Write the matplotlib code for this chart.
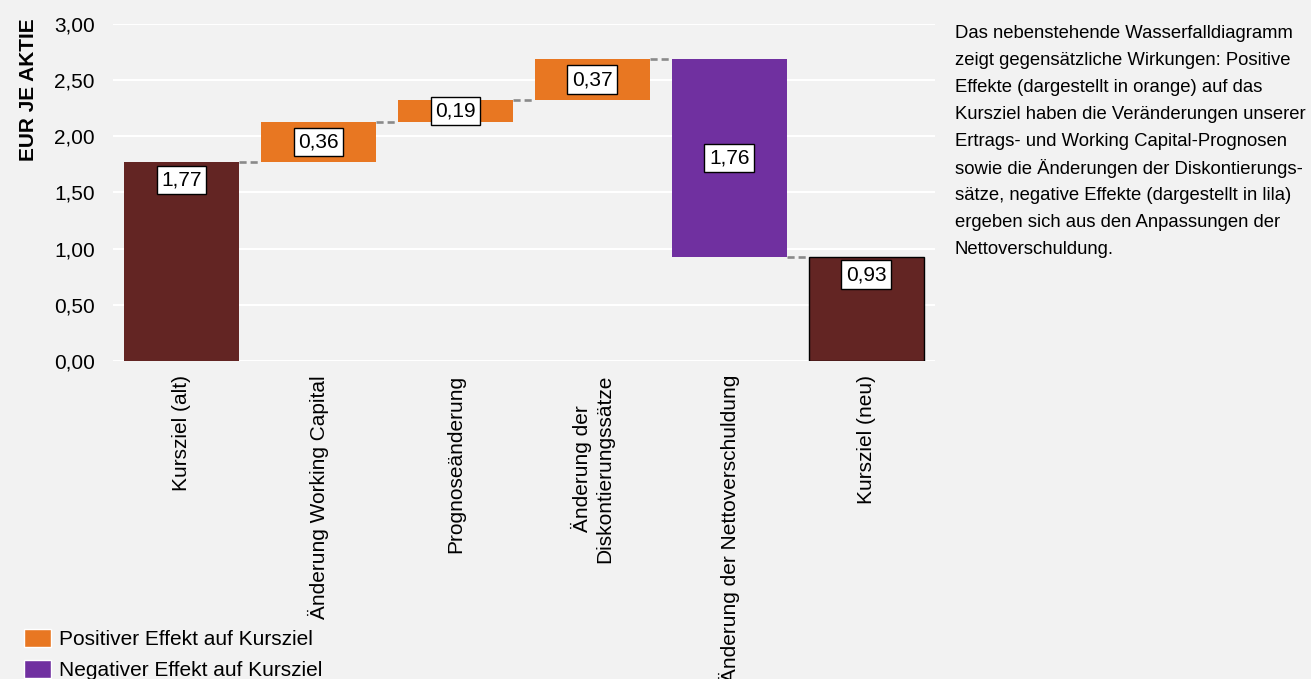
import matplotlib.pyplot as plt
from matplotlib.patches import Patch

plt.rcParams['font.family'] = ['Liberation Sans', 'DejaVu Sans']

# Daten
categories = ['Kursziel (alt)', 'Änderung Working Capital', 'Prognoseänderung',
              'Änderung der\nDiskontierungssätze', 'Änderung der Nettoverschuldung',
              'Kursziel (neu)']
changes = [1.77, 0.36, 0.19, 0.37, -1.76, 0.93]
kinds = ['total', 'pos', 'pos', 'pos', 'neg', 'total']
value_labels = ['1,77', '0,36', '0,19', '0,37', '1,76', '0,93']
yticks = [0, 0.5, 1.0, 1.5, 2.0, 2.5, 3.0]
ytick_labels = ['0,00', '0,50', '1,00', '1,50', '2,00', '2,50', '3,00']
note_lines = ['Das nebenstehende Wasserfalldiagramm',
              'zeigt gegensätzliche Wirkungen: Positive',
              'Effekte (dargestellt in orange) auf das',
              'Kursziel haben die Veränderungen unserer',
              'Ertrags- und Working Capital-Prognosen',
              'sowie die Änderungen der Diskontierungs-',
              'sätze, negative Effekte (dargestellt in lila)',
              'ergeben sich aus den Anpassungen der',
              'Nettoverschuldung.']

colors = {'total': '#632523', 'pos': '#E87722', 'neg': '#7030A0'}
bg = '#f2f2f2'
fs = 15

fig = plt.figure(figsize=(13.11, 6.79), dpi=100, facecolor=bg)
ax = fig.add_axes([0.0862, 0.4683, 0.6268, 0.4964], facecolor=bg)

# bottoms / tops der Balken berechnen
bottoms = []
tops = []
level = 0
for kind, val in zip(kinds, changes):
    if kind == 'total':
        bottoms.append(0)
        tops.append(val)
        level = val
    else:
        new_level = level + val
        bottoms.append(min(level, new_level))
        tops.append(max(level, new_level))
        level = new_level

x = list(range(len(categories)))
width = 0.84
for i in x:
    ec = 'black' if i == len(x) - 1 else 'none'
    ax.bar(i, tops[i] - bottoms[i], bottom=bottoms[i], width=width,
           color=colors[kinds[i]], edgecolor=ec, linewidth=1, zorder=3)

# Verbindungslinien
ends = []
level = 0
for kind, val in zip(kinds, changes):
    level = val if kind == 'total' else level + val
    ends.append(level)
for i in range(len(x) - 1):
    ax.plot([i + width / 2, i + 1 - width / 2], [ends[i], ends[i]],
            color='#8a8a8a', lw=1.9, linestyle=(0, (2.7, 1.5)), zorder=2,
            solid_capstyle='butt', dash_capstyle='butt')

# Wertebeschriftungen
for i in x:
    if kinds[i] == 'total':
        y = tops[i] - 0.16
    else:
        y = (tops[i] + bottoms[i]) / 2
    ax.text(i, y, value_labels[i], ha='center', va='center', fontsize=fs, zorder=5,
            bbox=dict(boxstyle='square,pad=0.22', fc='white', ec='black', lw=1))

ax.set_xlim(-0.5, len(x) - 0.5)
ax.set_ylim(0, 3)
ax.set_yticks(yticks)
ax.set_yticklabels(ytick_labels, fontsize=fs)
ax.set_xticks(x)
ax.set_xticklabels(categories, rotation=90, fontsize=fs, ha='center', va='top',
                   multialignment='center')
ax.tick_params(length=0)
ax.tick_params(axis='y', pad=13)
ax.tick_params(axis='x', pad=10)
ax.grid(axis='y', color='white', lw=1.5, zorder=0)
for s in ax.spines.values():
    s.set_visible(False)

fig.text(28 / 1311, 1 - 18 / 679, 'EUR JE AKTIE', rotation=90, ha='center', va='top',
         fontsize=fs, fontweight='bold')

# Legende
handles = [Patch(facecolor=colors['pos'], edgecolor='white', label='Positiver Effekt auf Kursziel'),
           Patch(facecolor=colors['neg'], edgecolor='white', label='Negativer Effekt auf Kursziel')]
fig.legend(handles=handles, loc='lower left', bbox_to_anchor=(0.012, -0.014), frameon=False,
           fontsize=fs, handlelength=1.3, handleheight=1.0, handletextpad=0.4,
           labelspacing=0.5, borderaxespad=0)

# Erklaerungstext, Zeile fuer Zeile mit festem Abstand
for k, line in enumerate(note_lines):
    fig.text(955 / 1311, 1 - (33.5 + 26.95 * k) / 679, line, ha='left', va='center',
             fontsize=13.3)

fig.savefig('out.png', dpi=100, facecolor=bg)
